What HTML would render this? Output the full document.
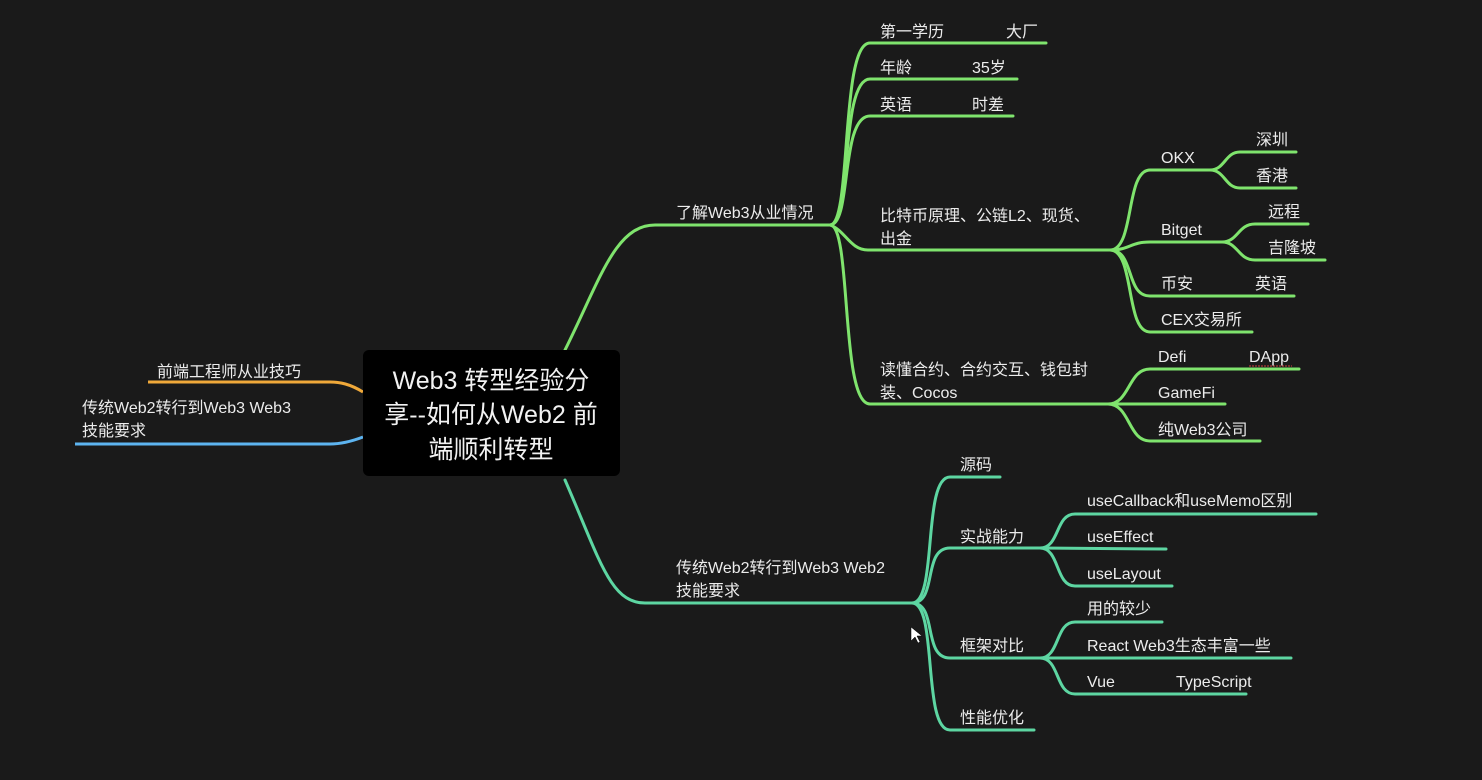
<!DOCTYPE html>
<html><head><meta charset="utf-8"><style>
html,body{margin:0;padding:0;background:#1a1a1a;}
svg{display:block;}
text{font-family:"Liberation Sans","Noto Sans CJK SC",sans-serif;fill:#ececec;font-size:16px;}
.c{font-size:25px;fill:#f2f2f2;text-anchor:middle;}
.g{stroke:#7fe46d;stroke-width:3;fill:none;stroke-linecap:round;}
.t{stroke:#5dd6a2;stroke-width:3;fill:none;stroke-linecap:round;}
</style></head><body>
<svg width="1482" height="780" viewBox="0 0 1482 780">
<rect width="1482" height="780" fill="#1a1a1a"/>
<path d="M363 392 C350 384,340 382,330 382 L148 382" stroke="#f0a93a" stroke-width="3" fill="none"/>
<path d="M363 437 C350 442,340 444,330 444 L75 444" stroke="#5db4f0" stroke-width="3" fill="none"/>
<text x="157" y="377">前端工程师从业技巧</text>
<text x="82" y="413">传统Web2转行到Web3 Web3</text>
<text x="82" y="436">技能要求</text>
<path class="g" d="M565 350 C600 280,615 225,655 225 L830 225"/>
<text x="676" y="218">了解Web3从业情况</text>
<path class="g" d="M830 225 C852 225,840 43,870 43 L1046 43"/>
<path class="g" d="M830 225 C852 225,840 79,870 79 L1017 79"/>
<path class="g" d="M830 225 C852 225,840 116,870 116 L1013 116"/>
<path class="g" d="M830 225 C845 230,850 250,868 250 L1110 250"/>
<path class="g" d="M830 225 C852 225,840 404,870 404 L1108 404"/>
<text x="880" y="37">第一学历</text><text x="1006" y="37">大厂</text>
<text x="880" y="73">年龄</text><text x="972" y="73">35岁</text>
<text x="880" y="110">英语</text><text x="972" y="110">时差</text>
<text x="880" y="221">比特币原理、公链L2、现货、</text>
<text x="880" y="244">出金</text>
<text x="880" y="375">读懂合约、合约交互、钱包封</text>
<text x="880" y="398">装、Cocos</text>
<path class="g" d="M1110 250 C1135 250,1125 170,1150 170 L1210 170"/>
<path class="g" d="M1110 250 C1130 250,1130 242,1150 242 L1222 242"/>
<path class="g" d="M1110 250 C1135 250,1125 296,1150 296 L1294 296"/>
<path class="g" d="M1110 250 C1135 250,1125 332,1150 332 L1252 332"/>
<path class="g" d="M1210 170 C1225 170,1225 152,1240 152 L1296 152"/>
<path class="g" d="M1210 170 C1225 170,1225 188,1240 188 L1296 188"/>
<path class="g" d="M1222 242 C1238 242,1238 224,1255 224 L1308 224"/>
<path class="g" d="M1222 242 C1238 242,1238 260,1255 260 L1325 260"/>
<text x="1161" y="163">OKX</text>
<text x="1256" y="145">深圳</text><text x="1256" y="181">香港</text>
<text x="1161" y="235">Bitget</text>
<text x="1268" y="217">远程</text><text x="1268" y="253">吉隆坡</text>
<text x="1161" y="289">币安</text><text x="1255" y="289">英语</text>
<text x="1161" y="325">CEX交易所</text>
<path class="g" d="M1108 404 C1130 404,1128 369,1150 369 L1299 369"/>
<path class="g" d="M1108 404 L1225 404"/>
<path class="g" d="M1108 404 C1130 404,1128 441,1150 441 L1260 441"/>
<text x="1158" y="362">Defi</text><text x="1249" y="362">DApp</text>
<line x1="1249" y1="366" x2="1292" y2="366" stroke="#d04040" stroke-width="1" stroke-dasharray="2,1"/>
<text x="1158" y="398">GameFi</text>
<text x="1158" y="435">纯Web3公司</text>
<path class="t" d="M565 480 C600 560,610 603,645 603 L912 603"/>
<text x="676" y="573">传统Web2转行到Web3 Web2</text>
<text x="676" y="596">技能要求</text>
<path class="t" d="M912 603 C938 603,922 477,950 477 L1000 477"/>
<path class="t" d="M912 603 C938 603,922 548,950 548 L1040 548"/>
<path class="t" d="M912 603 C938 603,922 658,950 658 L1040 658"/>
<path class="t" d="M912 603 C938 603,922 730,950 730 L1034 730"/>
<text x="960" y="470">源码</text>
<text x="960" y="542">实战能力</text>
<text x="960" y="651">框架对比</text>
<text x="960" y="723">性能优化</text>
<path class="t" d="M1040 548 C1060 548,1055 514,1075 514 L1316 514"/>
<path class="t" d="M1040 548 L1166 549"/>
<path class="t" d="M1040 548 C1060 548,1055 586,1075 586 L1172 586"/>
<path class="t" d="M1040 658 C1060 658,1055 622,1075 622 L1162 622"/>
<path class="t" d="M1040 658 L1291 658"/>
<path class="t" d="M1040 658 C1060 658,1055 694,1075 694 L1246 694"/>
<text x="1087" y="506">useCallback和useMemo区别</text>
<text x="1087" y="542">useEffect</text>
<text x="1087" y="579">useLayout</text>
<text x="1087" y="614">用的较少</text>
<text x="1087" y="651">React Web3生态丰富一些</text>
<text x="1087" y="687">Vue</text><text x="1176" y="687">TypeScript</text>
<rect x="363" y="350" width="257" height="126" rx="6" fill="#000"/>
<text class="c" x="491" y="389">Web3 转型经验分</text>
<text class="c" x="491" y="423">享--如何从Web2 前</text>
<text class="c" x="491" y="458">端顺利转型</text>
<path d="M911 627 L911 641 L915 637 L918 643 L920 642 L917 636 L922 636 Z" fill="#fff" stroke="#000" stroke-width="0.5"/>
</svg>
</body></html>
